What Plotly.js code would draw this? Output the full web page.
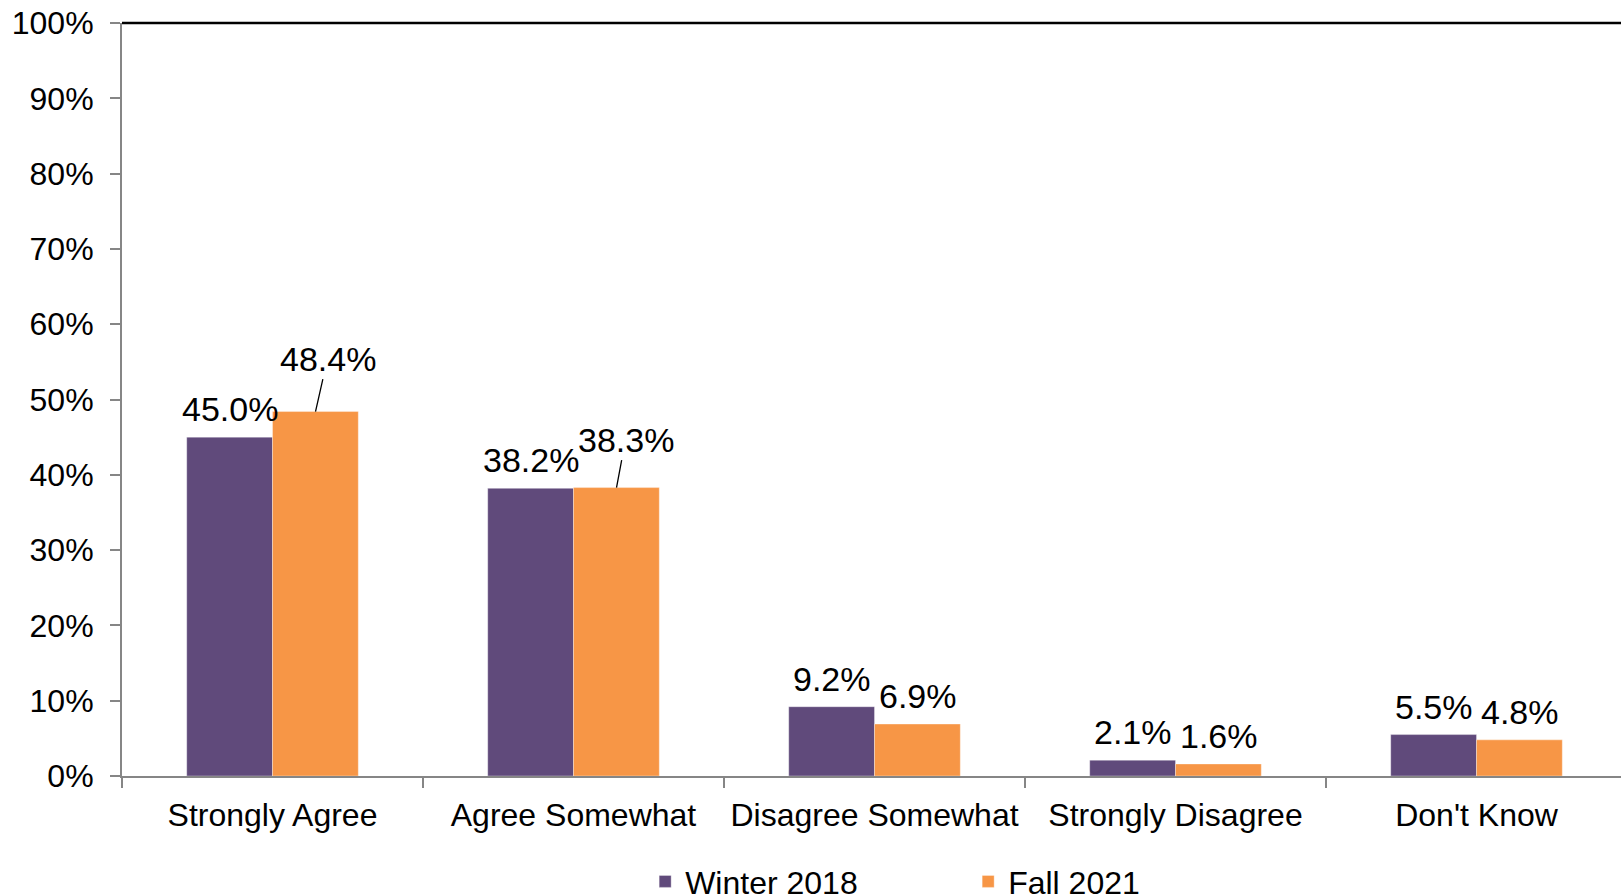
<!DOCTYPE html>
<html>
<head>
<meta charset="utf-8">
<script src="https://cdn.plot.ly/plotly-3.0.1.min.js"></script>
<style>html,body{margin:0;padding:0;background:#fff;}#chart{width:1621px;height:895px;}</style>
</head>
<body>
<div id="chart"></div>
<script>
const categories = ["Strongly Agree", "Agree Somewhat", "Disagree Somewhat", "Strongly Disagree", "Don't Know"];
const winter2018 = [0.450, 0.382, 0.092, 0.021, 0.055];
const fall2021 = [0.484, 0.383, 0.069, 0.016, 0.048];
const seriesNames = ["Winter 2018", "Fall 2021"];
const yTickVals = [0, 0.1, 0.2, 0.3, 0.4, 0.5, 0.6, 0.7, 0.8, 0.9, 1.0];

const purple = "#604A7B";
const orange = "#F79646";
const FONT = "Liberation Sans, Arial, sans-serif";

const traces = [
  {type: "bar", name: seriesNames[0], x: categories, y: winter2018,
   marker: {color: purple, line: {color: "rgba(255,255,255,0.35)", width: 1}}, hoverinfo: "none"},
  {type: "bar", name: seriesNames[1], x: categories, y: fall2021,
   marker: {color: orange, line: {color: "rgba(255,255,255,0.35)", width: 1}}, hoverinfo: "none"}
];

// data labels (some displaced with leader lines, as in the original)
const leader = {"1-0": {ax: 12, ay: -53}, "1-1": {ax: 9, ay: -48}};
const annotations = [];
[winter2018, fall2021].forEach((vals, s) => {
  vals.forEach((v, j) => {
    const key = s + "-" + j;
    const lbl = (v * 100).toFixed(1) + "%";
    const base = {x: categories[j], y: v, xref: "x", yref: "y", text: lbl,
      font: {family: FONT, size: 34, color: "#000"}, xshift: s === 0 ? -43 : 43};
    if (leader[key]) {
      annotations.push(Object.assign(base, {showarrow: true, arrowhead: 0, arrowwidth: 1.3,
        arrowcolor: "#000", ax: leader[key].ax, ay: leader[key].ay, standoff: 0}));
    } else {
      annotations.push(Object.assign(base, {showarrow: false, yanchor: "bottom", yshift: 7}));
    }
  });
});

const layout = {
  width: 1621, height: 895,
  margin: {l: 122, r: 0, t: 23, b: 119},
  paper_bgcolor: "#fff", plot_bgcolor: "#fff",
  font: {family: FONT, size: 32, color: "#000"},
  barmode: "group", bargap: 0.43, bargroupgap: 0,
  showlegend: true,
  legend: {orientation: "h", xref: "container", yref: "container", x: 0.398, y: 0.015,
    xanchor: "left", yanchor: "middle", font: {family: FONT, size: 32, color: "#000"},
    entrywidth: 278, traceorder: "normal"},
  xaxis: {type: "category", range: [-0.5, 4.48], showgrid: false, zeroline: false,
    showline: true, linecolor: "#868686", linewidth: 2,
    ticks: "outside", tickson: "boundaries", ticklen: 10, tickcolor: "#868686", tickwidth: 2,
    tickfont: {family: FONT, size: 32, color: "#000"}, ticklabelstandoff: 10},
  yaxis: {range: [0, 1], tickvals: yTickVals, tickformat: ".0%", showgrid: false, zeroline: false,
    showline: true, linecolor: "#868686", linewidth: 2,
    ticks: "outside", ticklen: 10, tickcolor: "#868686", tickwidth: 2,
    tickfont: {family: FONT, size: 32, color: "#000"}, ticklabelstandoff: 10},
  shapes: [{type: "line", xref: "paper", yref: "paper", x0: 0, x1: 1, y0: 1, y1: 1,
    line: {color: "#000", width: 2.5}}],
  annotations: annotations
};

Plotly.newPlot("chart", traces, layout, {displayModeBar: false, staticPlot: true});
</script>
</body>
</html>
